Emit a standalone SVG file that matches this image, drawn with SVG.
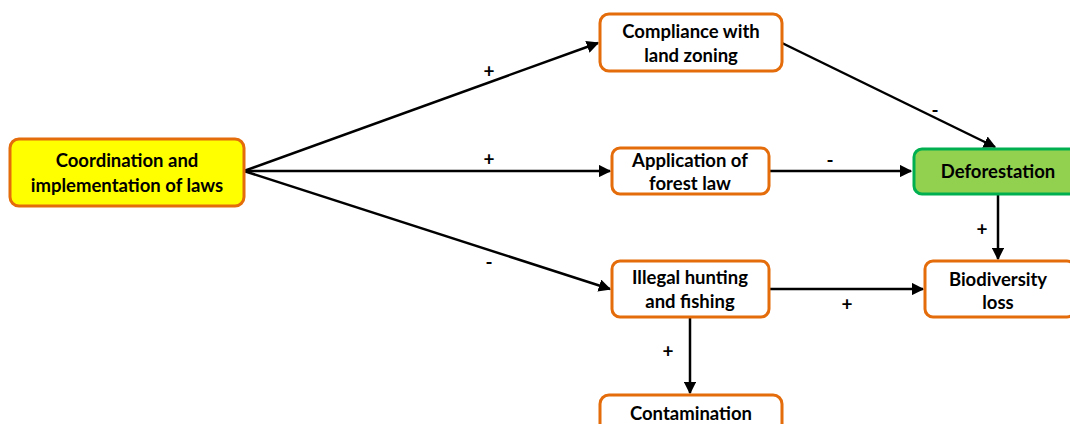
<svg xmlns="http://www.w3.org/2000/svg" width="1070" height="424" viewBox="0 0 1070 424">
  <style>
    .box { fill: #ffffff; stroke: #E46C0A; stroke-width: 3; }
    .yellow { fill: #FFFF00; }
    .green { fill: #92D050; stroke: #00B050; }
    .lbl { font-family: Lato, "Open Sans", "Liberation Sans", sans-serif; font-weight: bold; font-size: 18.5px; fill: #000; text-anchor: middle; }
    .sign { font-family: Lato, "Liberation Sans", sans-serif; font-weight: bold; font-size: 19px; fill: #000; text-anchor: middle; }
    .edge { stroke: #000; stroke-width: 2.5; fill: none; marker-end: url(#arrow); }
  </style>
  <defs>
    <marker id="arrow" viewBox="0 0 10 10" refX="9" refY="5" markerWidth="5" markerHeight="5" orient="auto" markerUnits="strokeWidth">
      <path d="M0,0 L10,5 L0,10 z" fill="#000"/>
    </marker>
  </defs>

  <g id="connectors">
    <line class="edge" x1="244" y1="171" x2="598" y2="43"/>
    <line class="edge" x1="244" y1="171" x2="610" y2="171"/>
    <line class="edge" x1="244" y1="171" x2="610" y2="289"/>
    <line class="edge" x1="782" y1="43" x2="995" y2="147"/>
    <line class="edge" x1="769" y1="171" x2="911" y2="171"/>
    <line class="edge" x1="998" y1="194" x2="998" y2="259"/>
    <line class="edge" x1="769" y1="289" x2="923" y2="289"/>
    <line class="edge" x1="690" y1="317" x2="690" y2="393"/>
    <text class="sign" x="489" y="78">+</text>
    <text class="sign" x="489" y="166">+</text>
    <text class="sign" x="489" y="269">-</text>
    <text class="sign" x="935" y="117">-</text>
    <text class="sign" x="830" y="167">-</text>
    <text class="sign" x="982" y="236">+</text>
    <text class="sign" x="847" y="311">+</text>
    <text class="sign" x="668" y="358">+</text>
  </g>

  <g id="coordination">
    <rect class="box yellow" x="10" y="139" width="234" height="67" rx="9"/>
    <text class="lbl" x="127" y="167" font-size="19.5">Coordination and</text>
    <text class="lbl" x="127" y="192" font-size="19.5">implementation of laws</text>
  </g>

  <g id="compliance">
    <rect class="box" x="600" y="14" width="182" height="57" rx="9"/>
    <text class="lbl" x="691" y="38">Compliance with</text>
    <text class="lbl" x="691" y="62">land zoning</text>
  </g>

  <g id="application">
    <rect class="box" x="612" y="148" width="157" height="46" rx="8"/>
    <text class="lbl" x="690" y="167">Application of</text>
    <text class="lbl" x="690" y="190">forest law</text>
  </g>

  <g id="deforestation">
    <rect class="box green" x="914" y="149" width="170" height="45" rx="8"/>
    <text class="lbl" x="998" y="178">Deforestation</text>
  </g>

  <g id="illegal">
    <rect class="box" x="612" y="261" width="157" height="56" rx="8"/>
    <text class="lbl" x="690" y="284">Illegal hunting</text>
    <text class="lbl" x="690" y="308">and fishing</text>
  </g>

  <g id="biodiversity">
    <rect class="box" x="925" y="261" width="150" height="56" rx="8"/>
    <text class="lbl" x="998" y="286">Biodiversity</text>
    <text class="lbl" x="998" y="309">loss</text>
  </g>

  <g id="contamination">
    <rect class="box" x="600" y="395" width="182" height="50" rx="9"/>
    <text class="lbl" x="691" y="420">Contamination</text>
  </g>
</svg>
